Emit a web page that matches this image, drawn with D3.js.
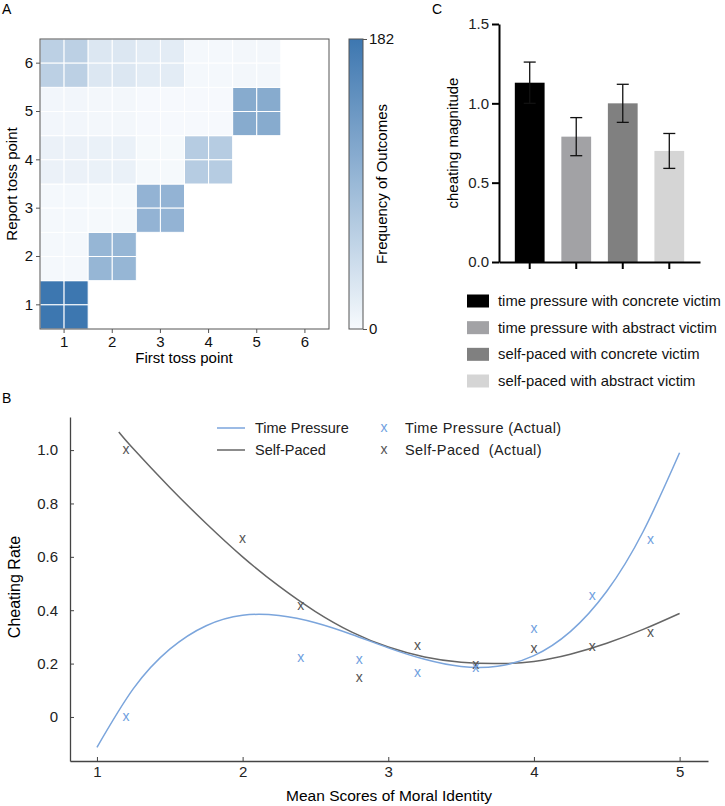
<!DOCTYPE html>
<html><head><meta charset="utf-8">
<script src="https://cdn.jsdelivr.net/npm/d3@7"></script>
<style>
body{margin:0;background:#fff}
svg{display:block;font-family:"Liberation Sans",Arial,Helvetica,sans-serif}
</style>
</head><body>
<svg id="chart" width="725" height="806"></svg>
<script>
// ---------- Panel A data ----------
const tossPoints = [1, 2, 3, 4, 5, 6];
// rows: report toss point 1..6 ; columns: first toss point 1..6 (null = no cell)
const outcomeCounts = [
  [182, null, null, null, null, null],
  [3, 95, null, null, null, null],
  [3, 2, 98, null, null, null],
  [12, 13, 2, 64, null, null],
  [5, 4, 1, 1, 110, null],
  [58, 26, 20, 3, 4, null]
];
const colorTicks = [0, 182];

// ---------- Panel C data ----------
const conditions = [
  "time pressure with concrete victim",
  "time pressure with abstract victim",
  "self-paced with concrete victim",
  "self-paced with abstract victim"
];
const magnitudes = [1.13, 0.79, 1.0, 0.70];
const magnitudeErrors = [0.13, 0.12, 0.12, 0.11];
const magnitudeTicks = [0, 0.5, 1.0, 1.5];
const conditionColors = ["#000000", "#a2a2a5", "#808080", "#d5d5d5"];

// ---------- Panel B data ----------
const moralScores = [1.2, 2.0, 2.4, 2.8, 3.2, 3.6, 4.0, 4.4, 4.8];
const timePressureActual = [0.0, null, 0.222, 0.213, 0.167, 0.185, 0.33, 0.453, 0.664];
const selfPacedActual = [1.0, 0.667, 0.417, 0.147, 0.265, 0.195, 0.257, 0.263, 0.316];
const timePressureFitX = [1.0, 1.25, 1.5, 1.75, 2.0, 2.25, 2.5, 2.75, 3.0, 3.25, 3.5, 3.75, 4.0, 4.25, 4.5, 4.75, 5.0];
const timePressureFitY = [-0.114, 0.106, 0.254, 0.342, 0.381, 0.38, 0.353, 0.309, 0.259, 0.216, 0.189, 0.19, 0.23, 0.32, 0.471, 0.695, 0.99];
const selfPacedFitX = [1.15, 1.25, 1.5, 1.75, 2.0, 2.25, 2.5, 2.75, 3.0, 3.25, 3.5, 3.75, 4.0, 4.25, 4.5, 4.75, 5.0];
const selfPacedFitY = [1.068, 1.005, 0.86, 0.725, 0.6, 0.49, 0.395, 0.318, 0.262, 0.225, 0.205, 0.2, 0.208, 0.235, 0.276, 0.328, 0.388];
const scoreTicks = [1, 2, 3, 4, 5];
const rateTicks = [0, 0.2, 0.4, 0.6, 0.8, 1.0];

const svg = d3.select("#chart");

// ======================= Panel A =======================
const gA = svg.append("g");
gA.append("text").attr("x", 2).attr("y", 14).attr("font-size", 14).text("A");

const hmX = d3.scaleBand().domain(tossPoints).range([40, 329]);
const hmY = d3.scaleBand().domain(tossPoints.slice().reverse()).range([39, 329]);
const color = d3.scaleLinear().domain([0, 182]).range(["#f7fafd", "#3d77b0"]).interpolate(d3.interpolateRgb);

const cells = [];
outcomeCounts.forEach((row, ri) => row.forEach((v, ci) => {
  if (v !== null) cells.push({report: tossPoints[ri], first: tossPoints[ci], v});
}));
const sub = [[0,0],[1,0],[0,1],[1,1]];
const cellG = gA.append("g");
cells.forEach(c => {
  const w = hmX.bandwidth() / 2, h = hmY.bandwidth() / 2;
  sub.forEach(([i, j]) => {
    cellG.append("rect")
      .attr("x", hmX(c.first) + i * w)
      .attr("y", hmY(c.report) + j * h)
      .attr("width", w).attr("height", h)
      .attr("fill", color(c.v))
      .attr("stroke", "#ffffff").attr("stroke-width", 1);
  });
});
gA.append("rect").attr("x", 40).attr("y", 39).attr("width", 289).attr("height", 290)
  .attr("fill", "none").attr("stroke", "#555").attr("stroke-width", 1);

const axA_y = gA.append("g").attr("transform", "translate(40,0)")
  .call(d3.axisLeft(hmY).tickSize(4).tickPadding(3));
const axA_x = gA.append("g").attr("transform", "translate(0,329)")
  .call(d3.axisBottom(hmX).tickSize(4).tickPadding(3));
[axA_y, axA_x].forEach(a => {
  a.select(".domain").remove();
  a.selectAll("line").attr("stroke", "#555");
  a.selectAll("text").attr("font-size", 15).attr("fill", "#111").attr("font-family", null);
});
gA.append("text").attr("transform", "translate(17,184) rotate(-90)")
  .attr("text-anchor", "middle").attr("font-size", 15).text("Report toss point");
gA.append("text").attr("x", 184).attr("y", 363)
  .attr("text-anchor", "middle").attr("font-size", 15).text("First toss point");

// colorbar
const defs = svg.append("defs");
const grad = defs.append("linearGradient").attr("id", "cbar").attr("x1", 0).attr("y1", 1).attr("x2", 0).attr("y2", 0);
d3.range(0, 1.0001, 0.1).forEach(t => grad.append("stop").attr("offset", t).attr("stop-color", color(t * 182)));
gA.append("rect").attr("x", 349).attr("y", 39).attr("width", 14).attr("height", 290)
  .attr("fill", "url(#cbar)").attr("stroke", "#555").attr("stroke-width", 1);
const cbScale = d3.scaleLinear().domain([0, 182]).range([329, 39]);
const axCb = gA.append("g").attr("transform", "translate(363,0)")
  .call(d3.axisRight(cbScale).tickValues(colorTicks).tickSize(4).tickPadding(2));
axCb.select(".domain").remove();
axCb.selectAll("line").attr("stroke", "#555");
axCb.selectAll("text").attr("font-size", 15).attr("fill", "#111").attr("font-family", null);
gA.append("text").attr("transform", "translate(387,184) rotate(-90)")
  .attr("text-anchor", "middle").attr("font-size", 15).text("Frequency of Outcomes");

// ======================= Panel C =======================
const gC = svg.append("g");
gC.append("text").attr("x", 432).attr("y", 14).attr("font-size", 14).text("C");
const bx = d3.scaleBand().domain(conditions).range([499, 700]).paddingInner(0.36).paddingOuter(0.34);
const by = d3.scaleLinear().domain([0, 1.5]).range([262, 24]);
gC.selectAll("rect.bar").data(conditions).enter().append("rect").attr("class", "bar")
  .attr("x", d => bx(d)).attr("width", bx.bandwidth())
  .attr("y", (d, i) => by(magnitudes[i])).attr("height", (d, i) => by(0) - by(magnitudes[i]))
  .attr("fill", (d, i) => conditionColors[i]);
conditions.forEach((d, i) => {
  const cx = bx(d) + bx.bandwidth() / 2;
  const lo = by(magnitudes[i] - magnitudeErrors[i]), hi = by(magnitudes[i] + magnitudeErrors[i]);
  const eg = gC.append("g").attr("stroke", "#111").attr("stroke-width", 1.3);
  eg.append("line").attr("x1", cx).attr("x2", cx).attr("y1", lo).attr("y2", hi);
  eg.append("line").attr("x1", cx - 6).attr("x2", cx + 6).attr("y1", hi).attr("y2", hi);
  eg.append("line").attr("x1", cx - 6).attr("x2", cx + 6).attr("y1", lo).attr("y2", lo);
});
const axC_y = gC.append("g").attr("transform", "translate(499,0)")
  .call(d3.axisLeft(by).tickValues(magnitudeTicks).tickFormat(d3.format(".1f")).tickSize(7).tickSizeOuter(0).tickPadding(3));
const axC_x = gC.append("g").attr("transform", "translate(0,262)")
  .call(d3.axisBottom(bx).tickSize(7).tickSizeOuter(0).tickFormat(""));
[axC_y, axC_x].forEach(a => {
  a.select(".domain").attr("stroke", "#000").attr("stroke-width", 2);
  a.selectAll("line").attr("stroke", "#000").attr("stroke-width", 2);
  a.selectAll("text").attr("font-size", 15).attr("fill", "#222").attr("font-family", null);
});
gC.append("text").attr("transform", "translate(458,143) rotate(-90)")
  .attr("text-anchor", "middle").attr("font-size", 15).text("cheating magnitude");
const legRowsY = d3.scalePoint().domain(conditions).range([301, 381]);
conditions.forEach((d, i) => {
  gC.append("rect").attr("x", 467).attr("y", legRowsY(d) - 6.5).attr("width", 22).attr("height", 13)
    .attr("fill", conditionColors[i]);
  gC.append("text").attr("x", 498).attr("y", legRowsY(d) + 5).attr("font-size", 14.8).attr("fill", "#111").text(d);
});

// ======================= Panel B =======================
const gB = svg.append("g");
gB.append("text").attr("x", 2).attr("y", 403).attr("font-size", 14).text("B");
const sx = d3.scaleLinear().domain([0.815, 5.195]).range([70, 708]);
const sy = d3.scaleLinear().domain([-0.165, 1.124]).range([761, 417]);
const axB_x = gB.append("g").attr("transform", "translate(0,761)")
  .call(d3.axisBottom(sx).tickValues(scoreTicks).tickFormat(d3.format("d")).tickSize(-4).tickSizeOuter(0).tickPadding(5));
const axB_y = gB.append("g").attr("transform", "translate(70,0)")
  .call(d3.axisLeft(sy).tickValues(rateTicks).tickFormat(d => d === 0 ? "0" : d3.format(".1f")(d)).tickSize(-4).tickSizeOuter(0).tickPadding(12));
[axB_x, axB_y].forEach(a => {
  a.select(".domain").attr("stroke", "#444").attr("stroke-width", 1.3);
  a.selectAll("line").attr("stroke", "#444");
  a.selectAll("text").attr("font-size", 15).attr("fill", "#222").attr("font-family", null);
});
gB.append("text").attr("transform", "translate(20,587) rotate(-90)")
  .attr("text-anchor", "middle").attr("font-size", 16).text("Cheating Rate");
gB.append("text").attr("x", 389).attr("y", 801)
  .attr("text-anchor", "middle").attr("font-size", 15.5).text("Mean Scores of Moral Identity");

const blue = "#7ba5dc", gray = "#666666";
const line = d3.line().x(d => sx(d[0])).y(d => sy(d[1])).curve(d3.curveNatural);
gB.append("path").attr("d", line(d3.zip(selfPacedFitX, selfPacedFitY)))
  .attr("fill", "none").attr("stroke", gray).attr("stroke-width", 1.5);
gB.append("path").attr("d", line(d3.zip(timePressureFitX, timePressureFitY)))
  .attr("fill", "none").attr("stroke", blue).attr("stroke-width", 1.5);

function markers(vals, col) {
  moralScores.forEach((x, i) => {
    if (vals[i] === null) return;
    gB.append("text").attr("x", sx(x)).attr("y", sy(vals[i])).attr("dy", "0.3em")
      .attr("text-anchor", "middle").attr("font-size", 14).attr("fill", col).text("x");
  });
}
markers(selfPacedActual, "#555");
markers(timePressureActual, "#6f9fe0");

// legend
const legB = [
  {label: "Time Pressure", col: blue, y: 428},
  {label: "Self-Paced", col: gray, y: 450}
];
legB.forEach(l => {
  gB.append("line").attr("x1", 217).attr("x2", 245).attr("y1", l.y).attr("y2", l.y)
    .attr("stroke", l.col).attr("stroke-width", 1.5);
  gB.append("text").attr("x", 255).attr("y", l.y + 5).attr("font-size", 14.5).attr("fill", "#222").text(l.label);
});
const legB2 = [
  {label: "Time Pressure (Actual)", col: "#6f9fe0", y: 428},
  {label: "Self-Paced  (Actual)", col: "#555", y: 450}
];
legB2.forEach(l => {
  gB.append("text").attr("x", 384).attr("y", l.y).attr("dy", "0.3em").attr("text-anchor", "middle")
    .attr("font-size", 14).attr("fill", l.col).text("x");
  gB.append("text").attr("x", 405).attr("y", l.y + 5).attr("font-size", 14.5).attr("fill", "#222")
    .attr("letter-spacing", 0.4).style("white-space", "pre").text(l.label);
});
</script>
</body></html>
